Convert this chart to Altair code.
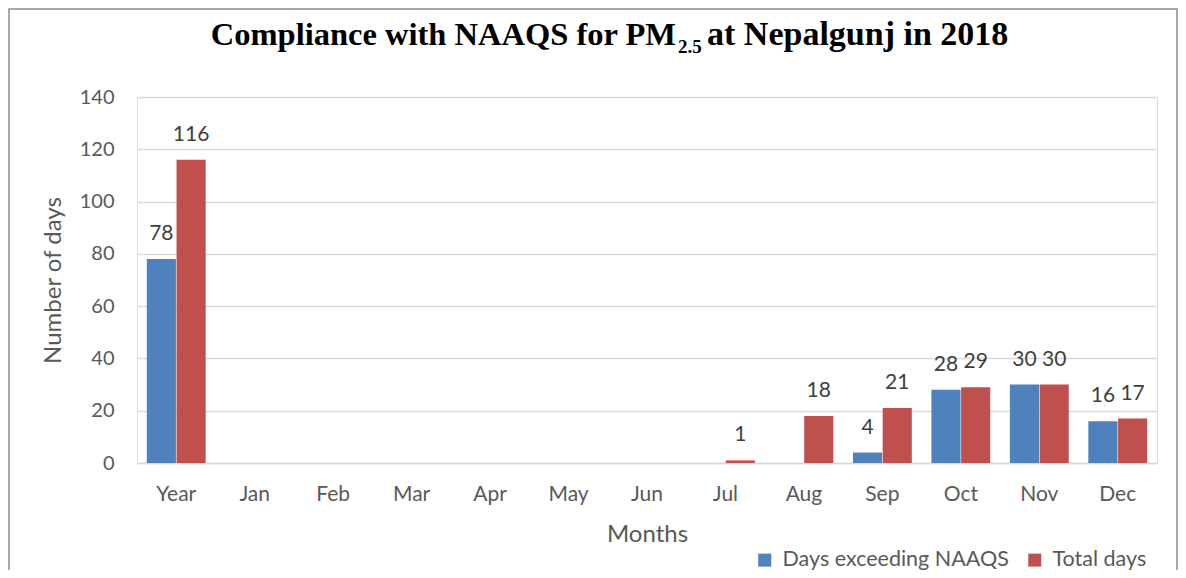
import altair as alt
import pandas as pd

months = ["Year", "Jan", "Feb", "Mar", "Apr", "May", "Jun", "Jul", "Aug", "Sep", "Oct", "Nov", "Dec"]
exceeding = [78, 0, 0, 0, 0, 0, 0, 0, 0, 4, 28, 30, 16]
total = [116, 0, 0, 0, 0, 0, 0, 1, 18, 21, 29, 30, 17]
series = ["Days exceeding NAAQS", "Total days"]
colors = ["#4F81BD", "#C0504D"]
y_ticks = [0, 20, 40, 60, 80, 100, 120, 140]
title_main = "Compliance with NAAQS for PM"
title_sub = "2.5"
title_rest = "at Nepalgunj in 2018"

rows = []
for m, a, b in zip(months, exceeding, total):
    rows.append({"month": m, "series": series[0], "value": a})
    rows.append({"month": m, "series": series[1], "value": b})
df = pd.DataFrame(rows)

FONT = "Lato"
GRAY = "#595959"
TFONT = "Liberation Serif"

x = alt.X("month:N", sort=months, title="Months",
          scale=alt.Scale(paddingInner=0.25, paddingOuter=0.125),
          axis=alt.Axis(labelAngle=0, labelFontSize=21, labelColor=GRAY, labelFont=FONT,
                        titleFontSize=24, titleColor=GRAY, titleFont=FONT, titleFontWeight="normal",
                        titlePadding=18, labelPadding=20, ticks=False, domainColor="#D9D9D9",
                        domainWidth=1.5, grid=False))
xoff = alt.XOffset("series:N", sort=series, scale=alt.Scale(paddingInner=0.02))

base = alt.Chart(df)

bars = base.mark_bar().encode(
    x=x,
    xOffset=xoff,
    y=alt.Y("value:Q", title="Number of days",
            scale=alt.Scale(domain=[0, 140], nice=False),
            axis=alt.Axis(values=y_ticks, labelFontSize=20, labelColor=GRAY, labelFont=FONT,
                          titleFontSize=24, titleColor=GRAY, titleFont=FONT, titleFontWeight="normal",
                          titlePadding=14, labelPadding=23, ticks=False, domain=False,
                          gridColor="#D9D9D9", gridWidth=1.5)),
    color=alt.Color("series:N", sort=series, scale=alt.Scale(domain=series, range=colors),
                    legend=alt.Legend(title=None, orient="none", legendX=617, legendY=452,
                                      direction="horizontal", symbolType="square", symbolSize=169,
                                      symbolStrokeWidth=0, labelFontSize=21.5, labelColor=GRAY,
                                      labelFont=FONT, columnPadding=15, labelOffset=7,
                                      labelLimit=0)),
)

labels = base.transform_filter("datum.value > 0").mark_text(
    baseline="alphabetic", dy=-19, fontSize=21, font=FONT, color="#404040"
).encode(
    x=alt.X("month:N", sort=months),
    xOffset=xoff,
    y="value:Q",
    text="value:Q",
)

one = pd.DataFrame({"f": [1]})

frame = alt.Chart(one).mark_rect(
    fill=None, stroke="#8C8C8C", strokeWidth=1.5
).encode(
    x=alt.value(-128), x2=alt.value(1040), y=alt.value(-88), y2=alt.value(490)
)

t1 = alt.Chart(one).mark_text(
    font=TFONT, fontSize=32.5, fontWeight="bold", color="#000000", align="right", baseline="alphabetic"
).encode(x=alt.value(539), y=alt.value(-52), text=alt.value(title_main))
t2 = alt.Chart(one).mark_text(
    font=TFONT, fontSize=19, fontWeight="bold", color="#000000", align="left", baseline="alphabetic"
).encode(x=alt.value(541), y=alt.value(-44), text=alt.value(title_sub))
t3 = alt.Chart(one).mark_text(
    font=TFONT, fontSize=34, fontWeight="bold", color="#000000", align="left", baseline="alphabetic"
).encode(x=alt.value(570), y=alt.value(-52), text=alt.value(title_rest))

chart = alt.layer(frame, bars, labels, t1, t2, t3).properties(
    width=1020, height=366,
    autosize=alt.AutoSizeParams(type="none"),
    padding={"left": 129, "top": 89, "right": 21, "bottom": 107},
).configure_view(stroke=None).configure(background="white")

chart.save("out.html", embed_options={"renderer": "svg", "actions": False})
